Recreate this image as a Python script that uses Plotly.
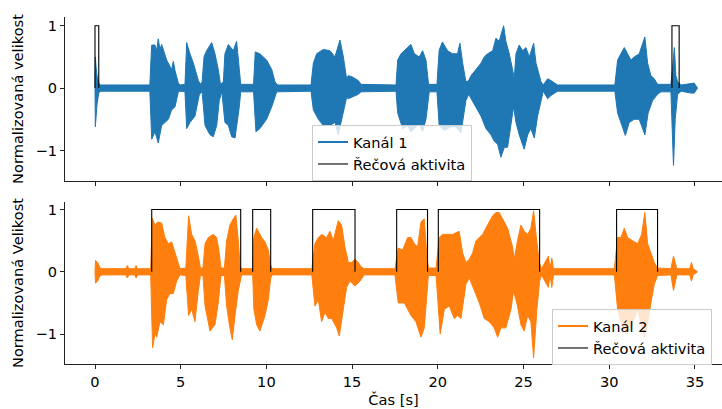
import plotly.graph_objects as go
from plotly.subplots import make_subplots

# ---------------- data ----------------
# Channel 1 envelope (time [s], upper / lower amplitude)
ch1_hi_t = [0.00, 0.02, 0.06, 0.12, 0.22, 0.32, 1.50, 3.20, 3.28, 3.31, 3.50, 3.60, 3.69, 3.79, 3.89, 3.99,
            4.18, 4.37, 4.47, 4.57, 4.67, 4.86, 4.96, 5.25, 5.35, 5.54, 5.74, 6.03, 6.15, 6.25, 6.36, 6.51,
            6.81, 7.00, 7.19, 7.32, 7.49, 7.58, 7.78, 8.07, 8.26, 8.42, 8.50, 9.25, 9.35, 9.62, 10.01, 10.31,
            10.50, 10.65, 12.60, 12.74, 12.93, 13.32, 13.71, 14.00, 14.29, 14.49, 14.68, 14.78, 15.00, 15.36,
            15.52, 17.56, 17.66, 17.85, 18.24, 18.43, 18.63, 18.92, 19.11, 19.31, 19.46, 19.95, 20.08, 20.27,
            20.57, 20.86, 21.15, 21.29, 21.45, 21.64, 21.80, 21.94, 22.23, 22.52, 22.71, 22.90, 23.20, 23.39,
            23.58, 23.84, 23.97, 24.17, 24.36, 24.46, 24.56, 24.75, 24.95, 25.14, 25.34, 25.59, 25.73, 25.92,
            26.02, 26.15, 26.41, 26.60, 26.99, 30.33, 30.49, 30.68, 30.88, 31.07, 31.27, 31.46, 31.75, 32.08,
            32.24, 32.43, 32.63, 32.82, 33.60, 33.69, 33.80, 33.89, 33.99, 34.20, 34.77, 34.96, 35.15]
ch1_hi = [0.00, 0.50, 0.35, 0.20, 0.08, 0.05, 0.05, 0.05, 0.55, 0.69, 0.69, 0.60, 0.79, 0.62, 0.70, 0.60,
          0.45, 0.35, 0.30, 0.43, 0.28, 0.08, 0.05, 0.06, 0.73, 0.55, 0.40, 0.12, 0.06, 0.10, 0.50, 0.60,
          0.73, 0.55, 0.30, 0.06, 0.10, 0.55, 0.70, 0.60, 0.75, 0.30, 0.06, 0.06, 0.58, 0.55, 0.45, 0.30,
          0.10, 0.05, 0.05, 0.40, 0.55, 0.62, 0.60, 0.50, 0.77, 0.50, 0.15, 0.20, 0.18, 0.12,
          0.06, 0.05, 0.45, 0.55, 0.66, 0.70, 0.55, 0.50, 0.60, 0.45, 0.06, 0.06, 0.61, 0.74,
          0.60, 0.55, 0.55, 0.72, 0.40, 0.10, 0.12, 0.20, 0.30, 0.40, 0.50, 0.55, 0.60, 0.80,
          0.75, 1.00, 0.75, 0.55, 0.30, 0.15, 0.55, 0.69, 0.60, 0.65, 0.50, 0.72, 0.40, 0.20,
          0.10, 0.05, 0.15, 0.12, 0.05, 0.05, 0.45, 0.55, 0.65, 0.55, 0.45, 0.50, 0.55, 0.82,
          0.40, 0.20, 0.15, 0.06, 0.06, 0.30, 0.65, 0.20, 0.10, 0.05, 0.08, 0.08, 0.00]
ch1_lo_t = [0.00, 0.02, 0.06, 0.12, 0.22, 0.32, 3.20, 3.31, 3.50, 3.69, 3.89, 4.08, 4.28, 4.47, 4.67, 4.86,
            4.96, 5.25, 5.35, 5.54, 5.83, 6.09, 6.25, 6.42, 6.71, 6.90, 7.10, 7.25, 7.40, 7.58, 7.78, 7.97,
            8.17, 8.42, 8.50, 9.25, 9.39, 9.62, 10.01, 10.31, 10.60, 12.60, 12.74, 13.03, 13.32, 13.71, 14.00,
            14.19, 14.39, 14.68, 14.78, 15.00, 15.36, 15.52, 17.56, 17.66, 17.95, 18.24, 18.43, 18.72, 18.92,
            19.11, 19.31, 19.50, 19.95, 20.08, 20.38, 20.77, 21.06, 21.35, 21.64, 21.80, 21.94, 22.23, 22.52,
            22.81, 23.10, 23.29, 23.49, 23.68, 23.88, 24.07, 24.27, 24.42, 24.56, 24.75, 25.04, 25.24, 25.43,
            25.63, 25.82, 26.02, 26.15, 26.41, 26.60, 26.99, 30.33, 30.49, 30.68, 30.94, 31.17, 31.46, 31.75,
            32.08, 32.27, 32.53, 32.82, 33.02, 33.60, 33.69, 33.75, 33.85, 33.99, 34.20, 34.77, 34.96, 35.15]
ch1_lo = [0.00, -0.62, -0.45, -0.25, -0.08, -0.05, -0.05, -0.82, -0.70, -0.88, -0.60, -0.55, -0.50, -0.35, -0.30, -0.06,
          -0.05, -0.06, -0.65, -0.55, -0.45, -0.10, -0.06, -0.60, -0.75, -0.78, -0.60, -0.20, -0.06, -0.55, -0.60, -0.78,
          -0.80, -0.30, -0.06, -0.06, -0.70, -0.65, -0.50, -0.30, -0.06, -0.05, -0.35, -0.50, -0.60, -0.60, -0.55,
          -0.75, -0.50, -0.15, -0.17, -0.15, -0.10, -0.06, -0.05, -0.40, -0.65, -0.60, -0.70, -0.62, -0.58,
          -0.70, -0.50, -0.06, -0.06, -0.60, -0.68, -0.62, -0.62, -0.72, -0.20, -0.10, -0.15, -0.30, -0.45,
          -0.65, -0.75, -0.85, -0.90, -1.11, -0.95, -0.95, -0.60, -0.30, -0.55, -0.75, -0.98, -0.75, -0.65,
          -0.80, -0.45, -0.20, -0.05, -0.17, -0.12, -0.05, -0.05, -0.40, -0.55, -0.76, -0.55, -0.50, -0.50,
          -0.75, -0.40, -0.20, -0.10, -0.06, -0.06, -0.60, -1.24, -0.50, -0.10, -0.05, -0.08, -0.08, 0.00]

# Channel 2 envelope
ch2_hi_t = [0.00, 0.03, 0.15, 0.30, 0.45, 1.80, 1.89, 1.97, 2.32, 2.40, 2.48, 3.25, 3.34, 3.50, 3.66, 3.89,
            4.08, 4.28, 4.47, 4.67, 4.86, 4.96, 5.30, 5.46, 5.64, 5.83, 6.03, 6.15, 6.30, 6.42, 6.61, 6.90,
            7.10, 7.25, 7.35, 7.55, 7.68, 7.87, 8.07, 8.22, 8.36, 8.46, 8.55, 9.20, 9.27, 9.43, 9.72, 9.92,
            10.11, 10.25, 10.35, 12.65, 12.83, 13.03, 13.22, 13.51, 13.71, 13.90, 14.19, 14.39, 14.58, 14.78,
            14.97, 15.17, 15.36, 15.52, 15.70, 17.50, 17.69, 17.95, 18.24, 18.43, 18.63, 18.82, 19.02, 19.21,
            19.35, 19.45, 19.90, 20.08, 20.27, 20.57, 20.86, 21.25, 21.45, 21.64, 21.84, 22.03, 22.23, 22.42,
            22.61, 22.90, 23.20, 23.39, 23.58, 23.78, 24.07, 24.36, 24.46, 24.65, 24.85, 25.04, 25.24, 25.43,
            25.59, 25.73, 25.92, 26.05, 26.45, 26.55, 26.65, 26.75, 30.30, 30.49, 30.68, 30.88, 31.07, 31.36,
            31.66, 31.89, 32.08, 32.24, 32.43, 32.63, 32.82, 33.60, 33.75, 33.95, 34.70, 34.80, 34.90, 35.15]
ch2_hi = [0.00, 0.18, 0.15, 0.06, 0.05, 0.05, 0.10, 0.05, 0.05, 0.10, 0.05, 0.05, 0.86, 0.75, 0.80, 0.78,
          0.55, 0.45, 0.48, 0.30, 0.10, 0.05, 0.06, 0.90, 0.60, 0.50, 0.25, 0.06, 0.06, 0.45, 0.55, 0.60,
          0.55, 0.30, 0.06, 0.06, 0.50, 0.75, 0.85, 0.91, 0.50, 0.10, 0.05, 0.05, 0.55, 0.70, 0.55, 0.48,
          0.35, 0.10, 0.05, 0.05, 0.45, 0.55, 0.60, 0.55, 0.65, 0.50, 0.82, 0.75, 0.40, 0.15,
          0.15, 0.20, 0.15, 0.08, 0.05, 0.05, 0.38, 0.35, 0.55, 0.55, 0.45, 0.40, 0.80, 0.85,
          0.30, 0.06, 0.06, 0.55, 0.60, 0.60, 0.60, 0.65, 0.30, 0.15, 0.20, 0.30, 0.50, 0.55,
          0.60, 0.75, 0.90, 0.95, 0.95, 0.85, 0.70, 0.40, 0.20, 0.50, 0.75, 0.65, 0.60, 0.70,
          0.98, 0.60, 0.15, 0.05, 0.25, 0.05, 0.22, 0.05, 0.05, 0.55, 0.55, 0.70, 0.55, 0.50,
          0.45, 0.60, 0.95, 0.45, 0.30, 0.15, 0.06, 0.05, 0.25, 0.05, 0.05, 0.15, 0.05, 0.00]
ch2_lo_t = [0.00, 0.03, 0.15, 0.30, 0.45, 1.80, 1.89, 1.97, 2.32, 2.40, 2.48, 3.25, 3.36, 3.50, 3.60, 3.79,
            3.99, 4.18, 4.37, 4.57, 4.76, 4.96, 5.30, 5.46, 5.64, 5.83, 6.03, 6.15, 6.30, 6.42, 6.71, 7.00,
            7.19, 7.35, 7.55, 7.68, 7.87, 8.01, 8.17, 8.36, 8.55, 9.20, 9.27, 9.43, 9.62, 9.92, 10.11, 10.25,
            10.35, 12.65, 12.83, 13.03, 13.22, 13.42, 13.61, 13.81, 14.10, 14.25, 14.49, 14.68, 14.87, 15.17,
            15.46, 15.70, 17.50, 17.69, 18.05, 18.43, 18.72, 19.02, 19.21, 19.37, 19.45, 19.90, 20.14, 20.38,
            20.67, 20.96, 21.15, 21.35, 21.64, 21.84, 22.13, 22.42, 22.71, 23.00, 23.29, 23.49, 23.68, 23.97,
            24.27, 24.42, 24.65, 24.85, 25.04, 25.24, 25.43, 25.59, 25.78, 25.94, 26.05, 26.45, 26.55, 26.65,
            26.75, 30.30, 30.49, 30.68, 30.97, 31.27, 31.66, 32.04, 32.24, 32.43, 32.63, 32.82, 33.60, 33.75,
            33.95, 34.70, 34.80, 34.90, 35.15]
ch2_lo = [0.00, -0.18, -0.15, -0.06, -0.05, -0.05, -0.10, -0.05, -0.05, -0.10, -0.05, -0.05, -1.22, -1.00, -1.05, -0.80,
          -0.85, -0.45, -0.35, -0.35, -0.15, -0.05, -0.06, -0.70, -0.60, -0.80, -0.30, -0.06, -0.06, -0.55, -0.95, -0.85,
          -0.50, -0.06, -0.06, -0.55, -0.90, -1.09, -0.70, -0.30, -0.05, -0.05, -0.60, -0.85, -0.95, -0.70, -0.45, -0.10,
          -0.05, -0.05, -0.55, -0.45, -0.80, -0.65, -0.75, -0.75, -0.90, -1.03, -0.60, -0.25, -0.15, -0.23,
          -0.15, -0.05, -0.05, -0.50, -0.50, -0.70, -0.80, -1.05, -0.90, -0.30, -0.06, -0.06, -1.00, -0.60,
          -0.55, -0.75, -0.70, -0.75, -0.20, -0.10, -0.30, -0.50, -0.75, -0.80, -0.90, -1.05, -0.90, -0.90,
          -0.60, -0.30, -0.55, -0.85, -0.95, -0.70, -0.80, -1.38, -0.60, -0.15, -0.05, -0.25, -0.05, -0.25,
          -0.05, -0.05, -0.60, -0.80, -1.00, -0.90, -0.60, -1.05, -0.85, -0.50, -0.20, -0.06, -0.05, -0.30,
          -0.05, -0.05, -0.15, -0.05, 0.00]

# Speech activity segments (start, end) [s]
act1_start = [0.00, 33.66]
act1_end = [0.22, 34.08]
act2_start = [3.31, 9.20, 12.70, 17.60, 20.03, 30.43]
act2_end = [8.50, 10.25, 15.17, 19.40, 25.94, 32.82]

x_ticks = [0, 5, 10, 15, 20, 25, 30, 35]
y_ticks = [-1, 0, 1]
y_ticktext = ["\u22121", "0", "1"]

C1 = "#1f77b4"
C2 = "#ff7f0e"
FONT = "DejaVu Sans"
FS = 14.6

# ---------------- figure ----------------
fig = make_subplots(rows=2, cols=1, shared_xaxes=True, vertical_spacing=0.0)


def add_wave(row, t_hi, hi, t_lo, lo, color, name, legend):
    xs = list(t_hi) + list(reversed(t_lo))
    ys = list(hi) + list(reversed(lo))
    fig.add_trace(go.Scatter(x=xs, y=ys, mode="lines", fill="toself", fillcolor=color,
                             line=dict(color=color, width=1), showlegend=False,
                             hoverinfo="skip"), row=row, col=1)
    fig.add_trace(go.Scatter(x=[None], y=[None], mode="lines", name=name,
                             line=dict(color=color, width=2), legend=legend), row=row, col=1)


def add_activity(row, starts, ends, legend):
    xs, ys = [], []
    for s, e in zip(starts, ends):
        xs += [s, s, e, e, None]
        ys += [0, 1, 1, 0, None]
    fig.add_trace(go.Scatter(x=xs, y=ys, mode="lines", name="Řečová aktivita",
                             line=dict(color="black", width=1.1), legend=legend,
                             connectgaps=False), row=row, col=1)


add_wave(1, ch1_hi_t, ch1_hi, ch1_lo_t, ch1_lo, C1, "Kanál 1", "legend")
add_activity(1, act1_start, act1_end, "legend")
add_wave(2, ch2_hi_t, ch2_hi, ch2_lo_t, ch2_lo, C2, "Kanál 2", "legend2")
add_activity(2, act2_start, act2_end, "legend2")

W, H = 722, 409
L, R, T, B = 65, 0, 17, 45
ph = H - T - B
top_dom = [(364 - 181) / ph, 1.0]
bot_dom = [0.0, (364 - 202) / ph]

axis_common = dict(showgrid=False, zeroline=False, showline=True, linecolor="#222", linewidth=1,
                   ticks="outside", ticklen=4, tickwidth=1, tickcolor="#222",
                   tickfont=dict(family=FONT, size=FS, color="black"))

fig.update_xaxes(range=[-1.75, 36.58], tickvals=x_ticks, **axis_common)
fig.update_xaxes(showticklabels=False, row=1, col=1)
fig.update_xaxes(title=dict(text="Čas [s]", font=dict(family=FONT, size=FS, color="black"), standoff=6),
                 row=2, col=1)
fig.update_yaxes(tickvals=y_ticks, ticktext=y_ticktext, **axis_common)
fig.update_yaxes(range=[-1.49, 1.14], domain=top_dom, row=1, col=1,
                 title=dict(text="Normalizovaná velikost", font=dict(family=FONT, size=FS, color="black"),
                            standoff=8))
fig.update_yaxes(range=[-1.48, 1.12], domain=bot_dom, row=2, col=1,
                 title=dict(text="Normalizovaná Velikost", font=dict(family=FONT, size=FS, color="black"),
                            standoff=8))

leg_common = dict(bgcolor="rgba(255,255,255,0.8)", bordercolor="#cccccc", borderwidth=1,
                  font=dict(family=FONT, size=FS, color="black"), xanchor="left", yanchor="top",
                  tracegroupgap=0)
fig.update_layout(
    width=W, height=H,
    margin=dict(l=L, r=R, t=T, b=B),
    paper_bgcolor="white", plot_bgcolor="white",
    font=dict(family=FONT, size=FS, color="black"),
    legend=dict(x=(312 - L) / (W - L - R), y=(364 - 125) / ph, **leg_common),
    legend2=dict(x=(552 - L) / (W - L - R), y=(364 - 309) / ph, **leg_common),
)

fig.write_html("out.html")
